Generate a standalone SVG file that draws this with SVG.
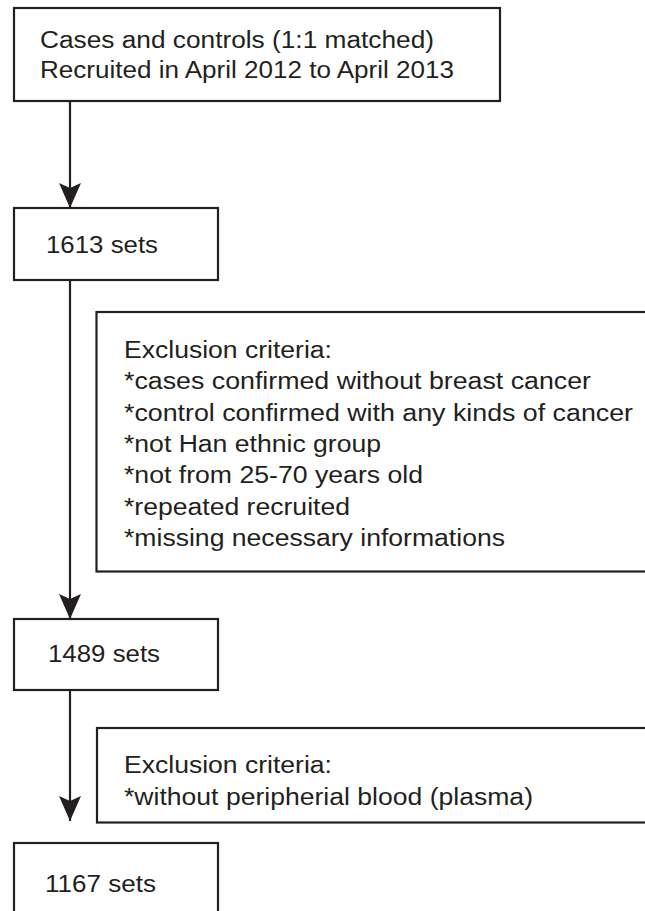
<svg xmlns="http://www.w3.org/2000/svg" width="645" height="911" viewBox="0 0 645 911">
  <style>
    .box { fill: #ffffff; stroke: #231f20; stroke-width: 2.2; }
    .lbl { font-family: "Liberation Sans", Arial, sans-serif; font-size: 23.5px; fill: #231f20; }
    .conn { fill: none; stroke: #231f20; stroke-width: 2.2; marker-end: url(#ah); }
  </style>
  <defs>
    <marker id="ah" markerUnits="userSpaceOnUse" markerWidth="26" markerHeight="22" refX="25" refY="11" orient="auto" viewBox="0 0 26 22">
      <path d="M0,0 L25,11 L0,22 L5,11 Z" fill="#231f20"/>
    </marker>
  </defs>
  <rect x="0" y="0" width="645" height="911" fill="#ffffff"/>

  <g id="connectors">
    <line class="conn" x1="70" y1="101" x2="70" y2="208"/>
    <line class="conn" x1="70" y1="280" x2="70" y2="619"/>
    <line class="conn" x1="70" y1="690" x2="70" y2="821"/>
  </g>

  <g id="node-start">
    <rect class="box" x="14" y="8" width="486" height="93"/>
    <text class="lbl" x="40" y="48" textLength="394" lengthAdjust="spacingAndGlyphs">Cases and controls (1:1 matched)</text>
    <text class="lbl" x="40" y="78" textLength="414" lengthAdjust="spacingAndGlyphs">Recruited in April 2012 to April 2013</text>
  </g>

  <g id="node-1613">
    <rect class="box" x="14" y="208" width="204" height="72"/>
    <text class="lbl" x="46" y="253" textLength="112" lengthAdjust="spacingAndGlyphs">1613 sets</text>
  </g>

  <g id="node-exclusion1">
    <rect class="box" x="96.5" y="312" width="580" height="259.5"/>
    <text class="lbl" x="124" y="358" textLength="208" lengthAdjust="spacingAndGlyphs">Exclusion criteria:</text>
    <text class="lbl" x="124" y="389.3" textLength="467" lengthAdjust="spacingAndGlyphs">*cases confirmed without breast cancer</text>
    <text class="lbl" x="124" y="420.6" textLength="509" lengthAdjust="spacingAndGlyphs">*control confirmed with any kinds of cancer</text>
    <text class="lbl" x="124" y="451.9" textLength="257" lengthAdjust="spacingAndGlyphs">*not Han ethnic group</text>
    <text class="lbl" x="124" y="483.2" textLength="299" lengthAdjust="spacingAndGlyphs">*not from 25-70 years old</text>
    <text class="lbl" x="124" y="514.5" textLength="226" lengthAdjust="spacingAndGlyphs">*repeated recruited</text>
    <text class="lbl" x="124" y="545.8" textLength="381" lengthAdjust="spacingAndGlyphs">*missing necessary informations</text>
  </g>

  <g id="node-1489">
    <rect class="box" x="14" y="619" width="204" height="71"/>
    <text class="lbl" x="48" y="662" textLength="112" lengthAdjust="spacingAndGlyphs">1489 sets</text>
  </g>

  <g id="node-exclusion2">
    <rect class="box" x="97" y="728" width="580" height="94.5"/>
    <text class="lbl" x="124" y="773" textLength="208" lengthAdjust="spacingAndGlyphs">Exclusion criteria:</text>
    <text class="lbl" x="124" y="805" textLength="409" lengthAdjust="spacingAndGlyphs">*without peripherial blood (plasma)</text>
  </g>

  <g id="node-1167">
    <rect class="box" x="14" y="843" width="204" height="90"/>
    <text class="lbl" x="45" y="892" textLength="111" lengthAdjust="spacingAndGlyphs">1167 sets</text>
  </g>
</svg>
